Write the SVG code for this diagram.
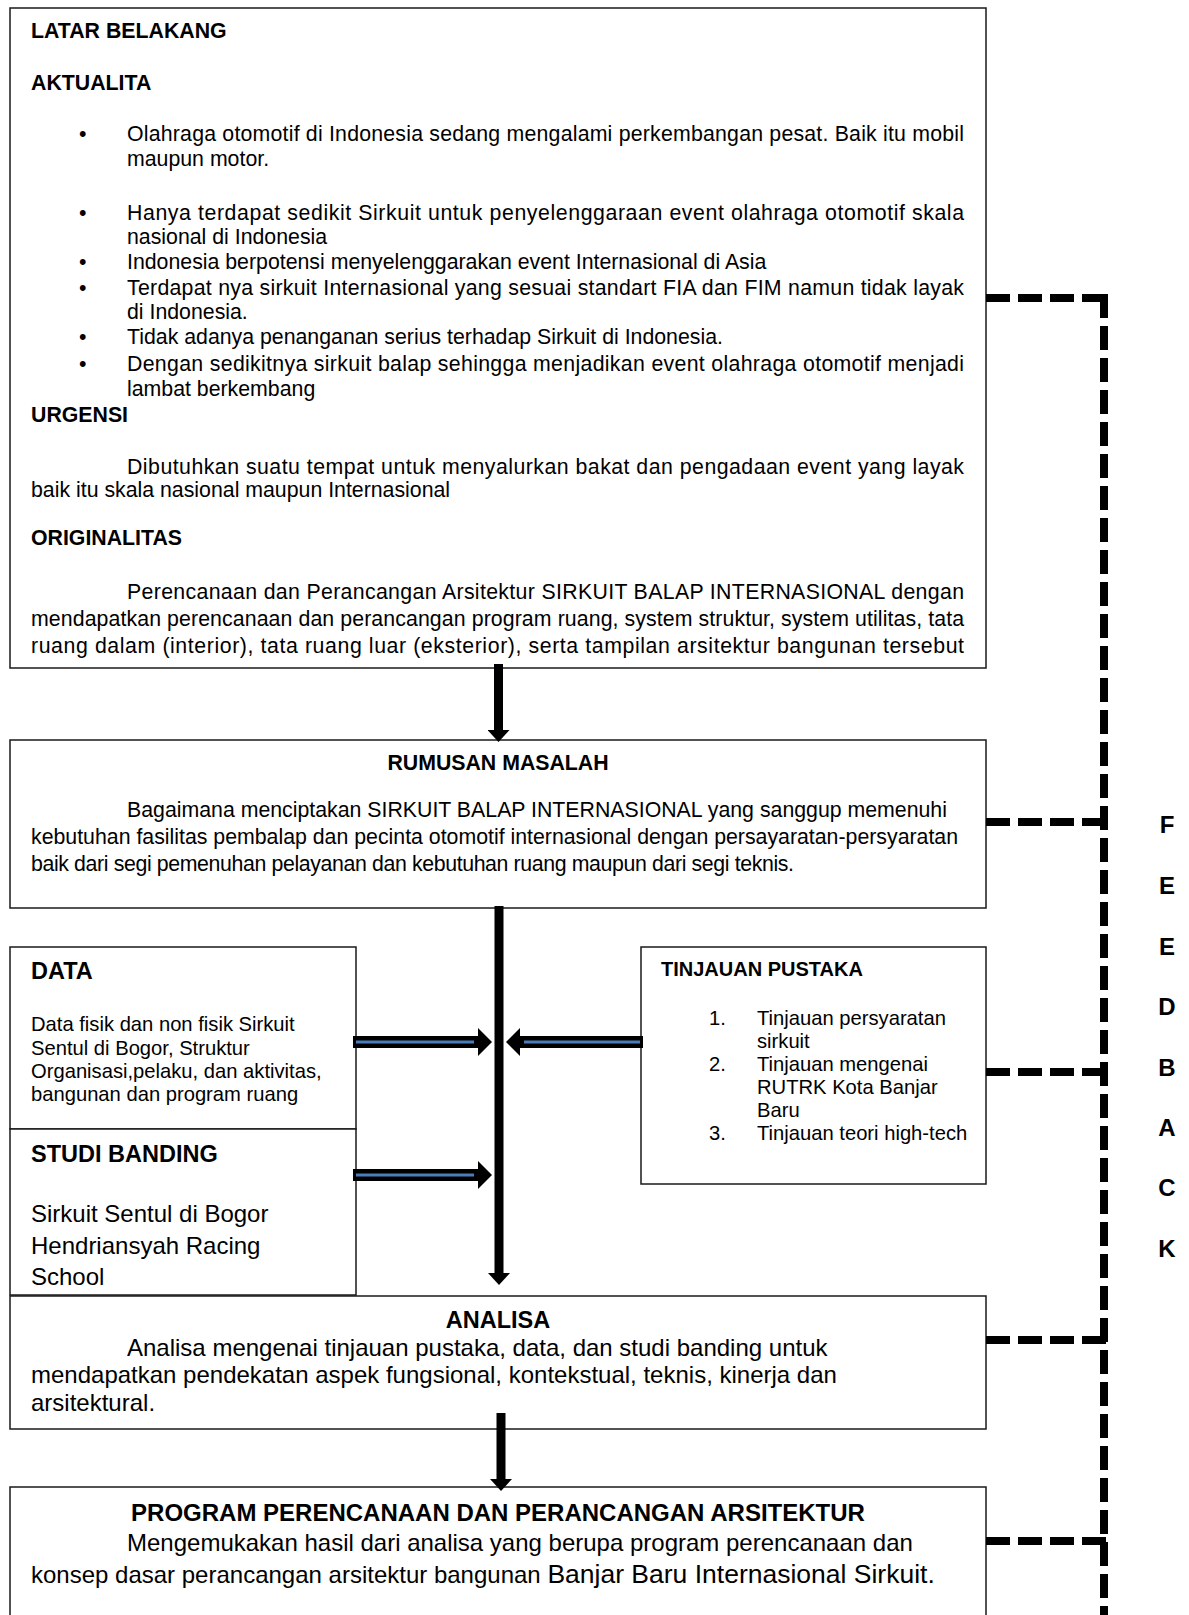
<svg xmlns="http://www.w3.org/2000/svg" width="1189" height="1615" viewBox="0 0 1189 1615">
<style>
.box{fill:#fff;stroke:#1a1a1a;stroke-width:1.5}
text{font-family:"Liberation Sans",Arial,sans-serif;fill:#000}
.t{font-size:21.3px}
.h{font-size:21.3px;font-weight:bold}
.s{font-size:20.2px}
.l{font-size:24px}
.hl{font-size:23.5px;font-weight:bold}
.c{text-anchor:middle}
.fb{font-size:24px;font-weight:bold;text-anchor:middle}
.main{stroke:#000;stroke-width:9;fill:none}
.blk{stroke:#000;stroke-width:12;fill:none}
.blu{stroke:#4a7ebb;stroke-width:3;fill:none}
.dash{stroke:#000;stroke-width:8;stroke-dasharray:24 8;fill:none}
</style>
<defs>
<marker id="ah" viewBox="0 0 12 22" markerWidth="12" markerHeight="22" refX="0" refY="11" orient="auto" markerUnits="userSpaceOnUse"><path d="M0,0 L12,11 L0,22 z" fill="#000"/></marker>
<marker id="bh" viewBox="0 0 14 28" markerWidth="14" markerHeight="28" refX="0" refY="14" orient="auto" markerUnits="userSpaceOnUse"><path d="M0,0 L14,14 L0,28 z" fill="#000"/></marker>
</defs>
<rect width="1189" height="1615" fill="#fff"/>

<g id="latar-belakang">
<rect class="box" x="10" y="8" width="976" height="660"/>
<text class="h" x="31" y="38">LATAR BELAKANG</text>
<text class="h" x="31" y="90">AKTUALITA</text>
<text class="t" x="79" y="141">•</text>
<text class="t" x="127" y="141" textLength="837">Olahraga otomotif di Indonesia sedang mengalami perkembangan pesat. Baik itu mobil</text>
<text class="t" x="127" y="166">maupun motor.</text>
<text class="t" x="79" y="220">•</text>
<text class="t" x="127" y="220" textLength="837">Hanya terdapat sedikit Sirkuit untuk penyelenggaraan event olahraga otomotif skala</text>
<text class="t" x="127" y="244">nasional di Indonesia</text>
<text class="t" x="79" y="269">•</text>
<text class="t" x="127" y="269">Indonesia berpotensi menyelenggarakan event Internasional di Asia</text>
<text class="t" x="79" y="295">•</text>
<text class="t" x="127" y="295" textLength="837">Terdapat nya sirkuit Internasional yang sesuai standart FIA dan FIM namun tidak layak</text>
<text class="t" x="127" y="319">di Indonesia.</text>
<text class="t" x="79" y="344">•</text>
<text class="t" x="127" y="344">Tidak adanya penanganan serius terhadap Sirkuit di Indonesia.</text>
<text class="t" x="79" y="371">•</text>
<text class="t" x="127" y="371" textLength="837">Dengan sedikitnya sirkuit balap sehingga menjadikan event olahraga otomotif menjadi</text>
<text class="t" x="127" y="396">lambat berkembang</text>
<text class="h" x="31" y="422">URGENSI</text>
<text class="t" x="127" y="474" textLength="837">Dibutuhkan suatu tempat untuk menyalurkan bakat dan pengadaan event yang layak</text>
<text class="t" x="31" y="497">baik itu skala nasional maupun Internasional</text>
<text class="h" x="31" y="545">ORIGINALITAS</text>
<text class="t" x="127" y="599" textLength="837">Perencanaan dan Perancangan Arsitektur SIRKUIT BALAP INTERNASIONAL dengan</text>
<text class="t" x="31" y="626" textLength="933">mendapatkan perencanaan dan perancangan program ruang, system struktur, system utilitas, tata</text>
<text class="t" x="31" y="653" textLength="933">ruang dalam (interior), tata ruang luar (eksterior), serta tampilan arsitektur bangunan tersebut</text>
</g>

<g id="rumusan-masalah">
<rect class="box" x="10" y="740" width="976" height="168"/>
<text class="h c" x="498" y="770">RUMUSAN MASALAH</text>
<text class="t" x="127" y="817">Bagaimana menciptakan SIRKUIT BALAP INTERNASIONAL yang sanggup memenuhi</text>
<text class="t" x="31" y="844">kebutuhan fasilitas pembalap dan pecinta otomotif internasional dengan persayaratan-persyaratan</text>
<text class="t" x="31" y="871" textLength="763">baik dari segi pemenuhan pelayanan dan kebutuhan ruang maupun dari segi teknis.</text>
</g>

<g id="data">
<rect class="box" x="10" y="947" width="346" height="182"/>
<text class="hl" x="31" y="979">DATA</text>
<text class="s" x="31" y="1031">Data fisik dan non fisik Sirkuit</text>
<text class="s" x="31" y="1055">Sentul di Bogor, Struktur</text>
<text class="s" x="31" y="1078">Organisasi,pelaku, dan aktivitas,</text>
<text class="s" x="31" y="1101">bangunan dan program ruang</text>
</g>

<g id="studi-banding">
<rect class="box" x="10" y="1129" width="346" height="166"/>
<text class="hl" x="31" y="1162">STUDI BANDING</text>
<text class="l" x="31" y="1222">Sirkuit Sentul di Bogor</text>
<text class="l" x="31" y="1254">Hendriansyah Racing</text>
<text class="l" x="31" y="1285">School</text>
</g>

<g id="tinjauan-pustaka">
<rect class="box" x="641" y="947" width="345" height="237"/>
<text x="661" y="976" style="font-size:20px;font-weight:bold">TINJAUAN PUSTAKA</text>
<text class="s" x="709" y="1025">1.</text>
<text class="s" x="757" y="1025">Tinjauan persyaratan</text>
<text class="s" x="757" y="1048">sirkuit</text>
<text class="s" x="709" y="1071">2.</text>
<text class="s" x="757" y="1071">Tinjauan mengenai</text>
<text class="s" x="757" y="1094">RUTRK Kota Banjar</text>
<text class="s" x="757" y="1117">Baru</text>
<text class="s" x="709" y="1140">3.</text>
<text class="s" x="757" y="1140">Tinjauan teori high-tech</text>
</g>

<g id="analisa">
<rect class="box" x="10" y="1296" width="976" height="133"/>
<text class="hl c" x="498" y="1328">ANALISA</text>
<text class="l" x="127" y="1356">Analisa mengenai tinjauan pustaka, data, dan studi banding untuk</text>
<text class="l" x="31" y="1383">mendapatkan pendekatan aspek fungsional, kontekstual, teknis, kinerja dan</text>
<text class="l" x="31" y="1411">arsitektural.</text>
</g>

<g id="program">
<rect class="box" x="10" y="1487" width="976" height="150"/>
<text class="c" x="498" y="1521" style="font-size:24px;font-weight:bold">PROGRAM PERENCANAAN DAN PERANCANGAN ARSITEKTUR</text>
<text class="l" x="127" y="1551">Mengemukakan hasil dari analisa yang berupa program perencanaan dan</text>
<text class="l" x="31" y="1583">konsep dasar perancangan arsitektur bangunan <tspan style="font-size:26.5px">Banjar Baru Internasional Sirkuit.</tspan></text>
</g>

<g id="feedback-label">
<text class="fb" x="1167" y="833">F</text>
<text class="fb" x="1167" y="894">E</text>
<text class="fb" x="1167" y="955">E</text>
<text class="fb" x="1167" y="1015">D</text>
<text class="fb" x="1167" y="1076">B</text>
<text class="fb" x="1167" y="1136">A</text>
<text class="fb" x="1167" y="1196">C</text>
<text class="fb" x="1167" y="1257">K</text>
</g>

<g id="connectors">
<line class="main" x1="498.5" y1="664" x2="498.5" y2="730" marker-end="url(#ah)"/>
<line class="main" x1="499" y1="906" x2="499" y2="1273" marker-end="url(#ah)"/>
<line class="main" x1="501" y1="1413" x2="501" y2="1479" marker-end="url(#ah)"/>
<line class="blk" x1="353" y1="1042" x2="478" y2="1042" marker-end="url(#bh)"/>
<line class="blu" x1="356" y1="1042" x2="474" y2="1042"/>
<line class="blk" x1="643" y1="1042" x2="520" y2="1042" marker-end="url(#bh)"/>
<line class="blu" x1="640" y1="1042" x2="524" y2="1042"/>
<line class="blk" x1="353" y1="1175" x2="478" y2="1175" marker-end="url(#bh)"/>
<line class="blu" x1="356" y1="1175" x2="474" y2="1175"/>
<line class="dash" x1="986" y1="298" x2="1106" y2="298"/>
<line class="dash" x1="986" y1="822" x2="1106" y2="822"/>
<line class="dash" x1="986" y1="1072" x2="1106" y2="1072"/>
<line class="dash" x1="986" y1="1340" x2="1106" y2="1340"/>
<line class="dash" x1="986" y1="1541" x2="1106" y2="1541"/>
<line class="dash" x1="1104" y1="294" x2="1104" y2="1615"/>
</g>
</svg>
